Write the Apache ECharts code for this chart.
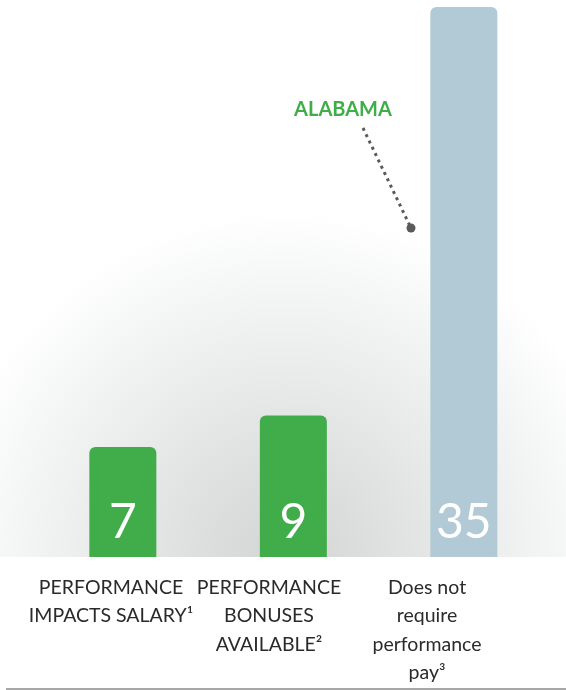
<!DOCTYPE html>
<html>
<head>
<meta charset="utf-8">
<script src="https://cdn.jsdelivr.net/npm/echarts@6/dist/echarts.min.js"></script>
<style>
  html, body { margin: 0; padding: 0; background: #fff; }
  #chart { width: 566px; height: 690px; }
</style>
</head>
<body>
<div id="chart"></div>
<script>
// data
const categories = [
  "PERFORMANCE\nIMPACTS SALARY\u00b9",
  "PERFORMANCE\nBONUSES\nAVAILABLE\u00b2",
  "Does not\nrequire\nperformance\npay\u00b3",
];
const values = [7, 9, 35];
const barColors = ["#41ad4a", "#41ad4a", "#b1cad6"];
const calloutText = "ALABAMA";

const FONT = "Lato, 'Open Sans', sans-serif";

const chart = echarts.init(document.getElementById("chart"));

const option = {
  animation: false,
  backgroundColor: "#fff",
  grid: [
    // bars
    { left: 37.6, right: 16.9, top: 7, bottom: 133 },
    // category labels sit a little off the bar centres in the original
    { left: 32, right: 60, top: 7, bottom: 133 },
  ],
  xAxis: [
    {
      type: "category",
      gridIndex: 0,
      data: categories,
      axisLine: { show: false },
      axisTick: { show: false },
      axisLabel: { show: false },
    },
    {
      type: "category",
      gridIndex: 1,
      data: categories,
      axisLine: { show: false },
      axisTick: { show: false },
      axisLabel: {
        margin: 16,
        color: "#2a2a2a",
        fontFamily: FONT,
        fontSize: 19.5,
        lineHeight: 28.5,
        interval: 0,
      },
    },
  ],
  yAxis: [
    { type: "value", gridIndex: 0, min: 0, max: 35, show: false },
    { type: "value", gridIndex: 1, min: 0, max: 35, show: false },
  ],
  graphic: [
    {
      type: "rect",
      z: -10,
      shape: { x: 0, y: 0, width: 566, height: 557 },
      style: {
        fill: {
          type: "radial",
          x: 285,
          y: 557,
          r: 345,
          global: true,
          colorStops: [
            { offset: 0, color: "#d4d5d5" },
            { offset: 0.2, color: "#dbdcdc" },
            { offset: 0.5, color: "#e8e9e9" },
            { offset: 0.8, color: "#f5f6f6" },
            { offset: 1, color: "#ffffff" },
          ],
        },
      },
    },
    {
      type: "text",
      x: 343,
      y: 110,
      style: {
        text: calloutText,
        fill: "#3fae49",
        font: "bold 20px " + FONT,
        align: "center",
        verticalAlign: "middle",
      },
    },
    {
      type: "line",
      shape: { x1: 363, y1: 128, x2: 410, y2: 226 },
      style: { stroke: "#5a5a5a", lineWidth: 3, lineDash: [3, 4] },
    },
    {
      type: "circle",
      shape: { cx: 411, cy: 228, r: 4.5 },
      style: { fill: "#5a5a5a" },
    },
    {
      type: "line",
      shape: { x1: 6, y1: 689, x2: 566, y2: 689 },
      style: { stroke: "#8a8a8a", lineWidth: 1.5 },
    },
  ],
  series: [
    {
      type: "bar",
      xAxisIndex: 0,
      yAxisIndex: 0,
      barWidth: 67,
      data: values.map((v, i) => ({
        value: v,
        itemStyle: { color: barColors[i], borderRadius: [6, 6, 0, 0] },
      })),
      label: {
        show: true,
        position: "insideBottom",
        distance: 10,
        color: "#fff",
        fontFamily: FONT,
        fontSize: 48,
        fontWeight: "normal",
      },
    },
  ],
};

chart.setOption(option);
</script>
</body>
</html>
